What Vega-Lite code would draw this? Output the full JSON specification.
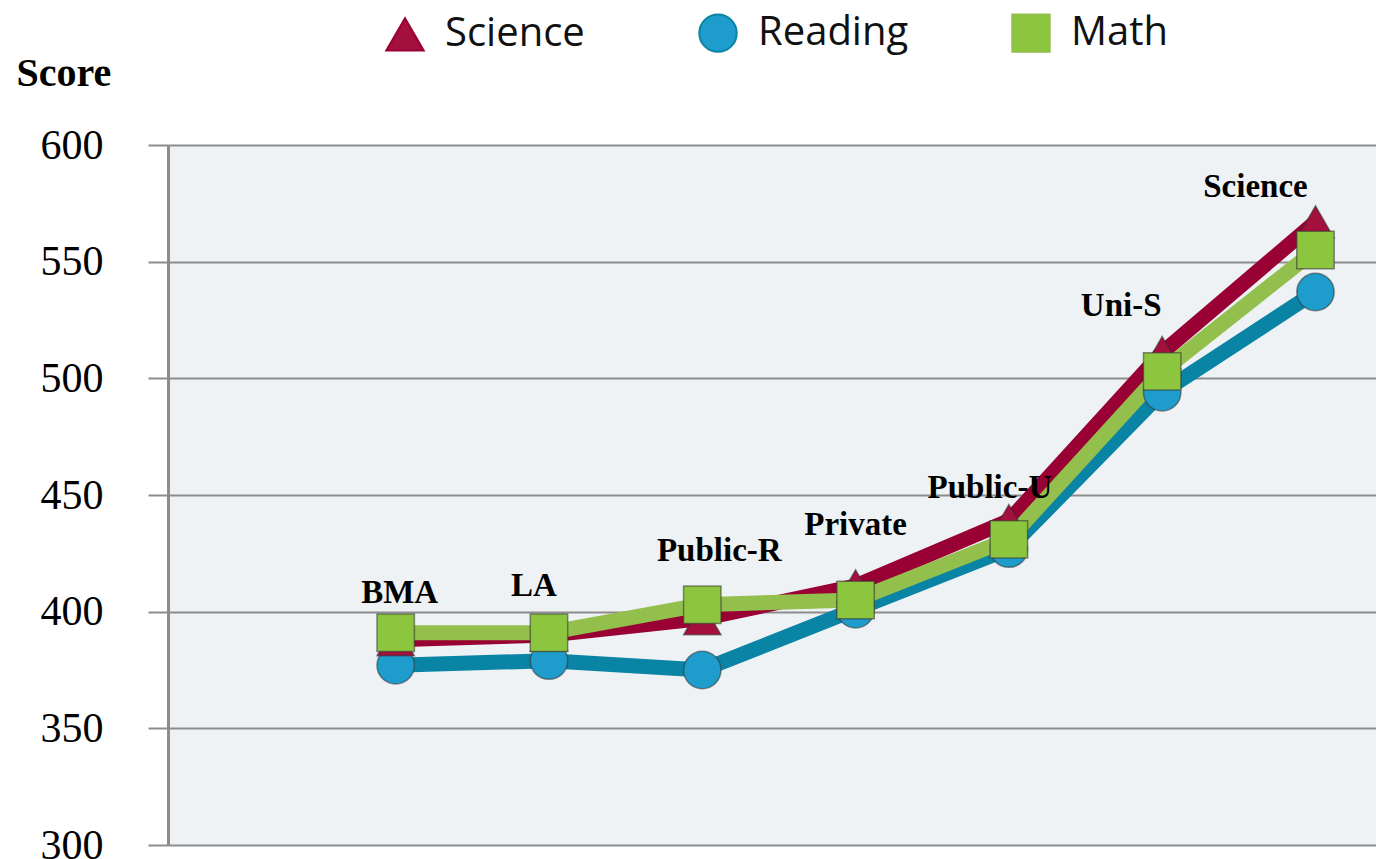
{
  "$schema": "https://vega.github.io/schema/vega-lite/v6.json",
  "width": 1208,
  "height": 700,
  "autosize": "none",
  "padding": {"left": 168, "top": 145, "right": 0, "bottom": 14},
  "background": "white",
  "config": {
    "view": {"fill": "#EEF2F5", "stroke": null},
    "legend": {"orient": "none", "legendX": 217, "legendY": -132, "direction": "horizontal", "columns": 3,
      "title": null, "labelFont": "Open Sans", "labelFontSize": 40, "labelColor": "#111",
      "symbolSize": 1400, "symbolStrokeWidth": 2, "labelOffset": 20,
      "columnPadding": 99, "gridAlign": "all", "symbolOpacity": 1}
  },
  "datasets": {
    "scores": [
      {"subject": "Reading", "category": "BMA", "score": 377},
      {"subject": "Reading", "category": "LA", "score": 379},
      {"subject": "Reading", "category": "Public-R", "score": 375},
      {"subject": "Reading", "category": "Private", "score": 401},
      {"subject": "Reading", "category": "Public-U", "score": 427},
      {"subject": "Reading", "category": "Uni-S", "score": 494},
      {"subject": "Reading", "category": "Science", "score": 537},
      {"subject": "Science", "category": "BMA", "score": 388},
      {"subject": "Science", "category": "LA", "score": 390},
      {"subject": "Science", "category": "Public-R", "score": 397},
      {"subject": "Science", "category": "Private", "score": 411},
      {"subject": "Science", "category": "Public-U", "score": 439},
      {"subject": "Science", "category": "Uni-S", "score": 511},
      {"subject": "Science", "category": "Science", "score": 567},
      {"subject": "Math", "category": "BMA", "score": 391},
      {"subject": "Math", "category": "LA", "score": 391},
      {"subject": "Math", "category": "Public-R", "score": 403},
      {"subject": "Math", "category": "Private", "score": 405},
      {"subject": "Math", "category": "Public-U", "score": 431},
      {"subject": "Math", "category": "Uni-S", "score": 503},
      {"subject": "Math", "category": "Science", "score": 555}
    ],
    "labels": [
      {"category": "BMA", "at": 408},
      {"category": "LA", "at": 411},
      {"category": "Public-R", "at": 426},
      {"category": "Private", "at": 437},
      {"category": "Public-U", "at": 453},
      {"category": "Uni-S", "at": 531},
      {"category": "Science", "at": 582}
    ]
  },
  "layer": [
    {
      "data": {"name": "scores"},
      "mark": {"type": "line", "strokeWidth": 15, "strokeJoin": "round"},
      "encoding": {
        "x": {"field": "category", "type": "nominal", "sort": null,
          "scale": {"type": "point", "domain": ["BMA", "LA", "Public-R", "Private", "Public-U", "Uni-S", "Science"], "padding": 0.94, "align": 0.79},
          "axis": null},
        "y": {"field": "score", "type": "quantitative",
          "scale": {"domain": [300, 600], "nice": false, "zero": false},
          "axis": {
            "values": [300, 350, 400, 450, 500, 550, 600],
            "grid": true, "gridColor": "#8C8C8C", "gridWidth": 2,
            "tickColor": "#8C8C8C", "tickWidth": 2, "tickSize": 20,
            "domainColor": "#8C8C8C", "domainWidth": 3,
            "labelFont": "Liberation Serif", "labelFontSize": 42, "labelColor": "#000", "labelPadding": 45,
            "title": "Score", "titleFont": "Liberation Serif", "titleFontSize": 40, "titleFontWeight": "bold",
            "titleColor": "#000", "titleAngle": 0, "titleAlign": "left", "titleBaseline": "alphabetic",
            "titleX": -152, "titleY": -60
          }},
        "stroke": {"field": "subject", "type": "nominal",
          "scale": {"domain": ["Science", "Reading", "Math"], "range": ["#990033", "#0A84A4", "#93BF4D"]}}
      }
    },
    {
      "data": {"name": "scores"},
      "mark": {"type": "point", "filled": true, "size": 1400, "opacity": 1, "stroke": "#333333", "strokeOpacity": 0.55, "strokeWidth": 1.5},
      "encoding": {
        "x": {"field": "category", "type": "nominal", "sort": null},
        "y": {"field": "score", "type": "quantitative"},
        "fill": {"field": "subject", "type": "nominal",
          "scale": {"domain": ["Science", "Reading", "Math"], "range": ["#A3103E", "#1E9CCB", "#8CC63F"]}},
        "shape": {"field": "subject", "type": "nominal",
          "scale": {"domain": ["Science", "Reading", "Math"], "range": ["triangle-up", "circle", "square"]}}
      }
    },
    {
      "data": {"name": "labels"},
      "mark": {"type": "text", "font": "Liberation Serif", "fontSize": 33, "fontWeight": "bold", "color": "#000",
        "align": "center", "baseline": "middle",
        "dx": {"expr": "({'BMA': 4, 'LA': -15, 'Public-R': 17, 'Private': 0, 'Public-U': -19, 'Uni-S': -41, 'Science': -60})[datum.category]"}},
      "encoding": {
        "x": {"field": "category", "type": "nominal", "sort": null},
        "y": {"field": "at", "type": "quantitative"},
        "text": {"field": "category"}
      }
    }
  ]
}
